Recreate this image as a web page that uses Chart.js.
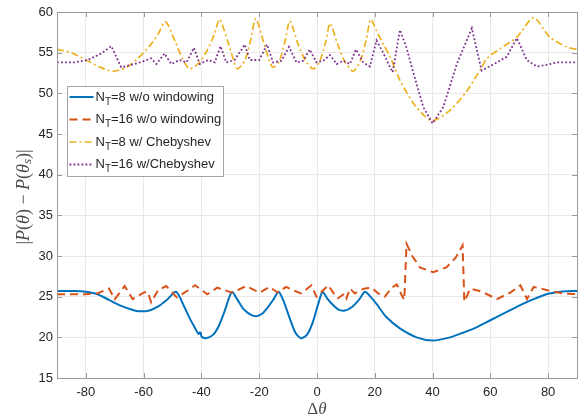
<!DOCTYPE html>
<html>
<head>
    <title>Pattern difference vs angle offset</title>
    <meta charset="utf-8">
    <script src="https://cdn.jsdelivr.net/npm/chart.js"></script>
    <style>
        body { margin: 0; background: #fff; }
        #wrap { width: 582px; height: 420px; }
    </style>
</head>
<body>
<div id="wrap"><canvas id="chart" width="582" height="420"></canvas></div>
<script>
    // N_T=8 w/o windowing
    var blueX = [-90, -84, -80, -76, -72, -68, -64, -61.5, -58, -55, -52, -48.8, -46, -44, -42, -41, -40.6, -40.2, -40, -38.5, -36, -34, -32, -30.5, -29.4,
        -27.5, -25.5, -23, -21, -19, -17, -15, -13.3, -11.5, -9.5, -7.5, -5.6, -3.5, -1.5, 0.5, 1.9, 3.5, 5.5, 7.5, 9.7, 12, 14.5, 16.6,
        18.5, 20.6, 24, 28.7, 34.5, 40, 45, 50, 55, 60, 65, 70, 75, 80, 85, 90];
    var blueY = [25.7, 25.7, 25.6, 25.3, 24.6, 23.9, 23.4, 23.2, 23.3, 23.8, 24.6, 25.6, 23.8, 22.3, 21.0, 20.4, 20.6, 20.5, 20.1, 19.9, 20.3, 21.4, 23.2, 24.8, 25.6,
        24.6, 23.5, 22.8, 22.6, 22.9, 23.7, 24.7, 25.6, 24.4, 22.4, 20.6, 19.9, 20.3, 21.8, 24.2, 25.6, 24.8, 24.0, 23.4, 23.3, 23.7, 24.6, 25.6,
        25.0, 24.1, 22.5, 21.1, 20.0, 19.6, 19.9, 20.5, 21.2, 22.1, 23.0, 23.9, 24.7, 25.35, 25.65, 25.7];

    // N_T=16 w/o windowing
    var redX = [-90, -80, -76, -72, -70, -66.6, -63.8, -60, -58.6, -57.4, -55, -52.2, -48.5, -45, -42.2, -38, -34.5, -29.4, -24.5, -19.8, -16.5, -13.6,
        -10.7, -8.4, -5.5, -1.9, -0.2, 1.6, 3.9, 6.2, 7.3, 9.6, 10.2, 11.4, 13.1, 14.8, 16.6, 18.9, 21.2, 23.5, 25.8, 27.6, 29.3, 30.2, 31, 33,
        35.6, 40.2, 44.8, 48, 50.4, 51, 53.1, 57.1, 62.3, 66.9, 70.4, 72.7, 75, 79.7, 85, 90];
    var redY = [25.3, 25.3, 25.4, 26.0, 24.7, 26.3, 24.7, 25.5, 25.6, 24.3, 25.8, 26.3, 24.9, 25.7, 26.4, 25.3, 26.1, 25.5, 26.3, 25.5, 26.2, 25.5,
        26.2, 25.8, 25.4, 26.4, 25.0, 25.6, 26.4, 25.2, 24.8, 25.4, 24.8, 26.0, 25.4, 25.8, 26.0, 26.1, 25.4, 25.0, 26.1, 26.5, 25.2, 24.6, 31.5, 30.0,
        28.6, 28.0, 28.6, 29.8, 31.3, 24.4, 26.0, 25.6, 24.7, 25.5, 26.4, 24.7, 26.2, 25.8, 25.4, 25.3];

    // N_T=8 w/ Chebyshev
    var yellowX = [-90, -85, -80, -75, -70.7, -66, -62, -58, -55, -52.4, -49, -46.5, -44.1, -41, -38, -35.5, -33.7, -31, -29, -27.6, -25, -23, -21.2,
        -18.5, -16.5, -15.2, -13, -11, -9.4, -6.5, -4, -1.3, 1, 3, 4.5, 7, 9.5, 12.5, 15, 17, 18.6, 20.6, 23, 25.3, 28.7, 33.3, 37, 40, 46,
        51.7, 57, 58.8, 63.4, 69.2, 75, 80.6, 86.5, 90];
    var yellowY = [55.4, 55.0, 54.1, 53.2, 52.7, 53.2, 54.3, 55.8, 57.3, 58.8, 56.3, 54.2, 53.0, 53.7, 55.3, 57.3, 59.1, 56.5, 54.2, 53.0, 54.0, 56.5, 59.2,
        56.3, 54.0, 53.2, 54.0, 56.5, 58.9, 56.0, 54.0, 53.0, 54.0, 56.3, 58.6, 56.2, 54.0, 52.7, 54.0, 56.5, 59.1, 57.7, 56.0, 54.5, 51.6, 48.8, 47.3, 46.6, 47.9,
        50.2, 53.2, 54.3, 55.5, 56.9, 59.3, 56.9, 55.7, 55.4];

    // N_T=16 w/Chebyshev
    var purpleX = [-90, -84, -79.3, -74.7, -71.2, -67.8, -64.3, -60.8, -57.4, -55.6, -52.8, -50.4, -47.6, -45.2, -42.6, -40.6, -37.7, -35.4, -33.4, -31.4,
        -28.5, -25, -23.3, -20, -17.3, -15.2, -12.3, -9.7, -7.1, -4.8, -2.5, -0.2, 2.1, 4.5, 6.8, 9.1, 11.4, 13.5, 16, 18.3, 20.6, 22.9, 25.3, 26.2,
        28.7, 31, 33.3, 36.8, 40, 43.7, 48.4, 53.6, 57, 62.3, 65.7, 69.2, 72.6, 76.1, 79.5, 83, 90];
    var purpleY = [53.8, 53.8, 54.1, 54.9, 55.8, 53.2, 53.5, 53.85, 54.3, 53.6, 54.9, 53.6, 54.1, 53.8, 55.6, 53.6, 54.1, 53.8, 55.8, 53.8,
        54.1, 56.0, 54.1, 54.1, 56.0, 53.8, 54.0, 55.7, 53.8, 54.0, 55.4, 53.8, 54.0, 54.7, 53.6, 54.0, 53.6, 55.4, 53.8, 53.3, 56.5, 55.0, 53.2, 52.6,
        57.8, 55.6, 52.6, 48.3, 46.3, 48.3, 53.6, 58.0, 52.8, 53.8, 54.5, 56.8, 54.1, 53.3, 53.5, 53.8, 53.8];

    var seriesLabels = ['N_T=8 w/o windowing', 'N_T=16 w/o windowing', 'N_T=8 w/ Chebyshev', 'N_T=16 w/Chebyshev'];
    var xTicks = [-80, -60, -40, -20, 0, 20, 40, 60, 80];
    var yTicks = [15, 20, 25, 30, 35, 40, 45, 50, 55, 60];

    function pts(xs, ys) {
        return xs.map(function(x, i) { return { x: x, y: ys[i] }; });
    }

    // box, inward ticks, axis labels and legend drawn matlab-style
    var matlabAxes = {
        id: 'matlabAxes',
        afterDraw: function(chart) {
            var ctx = chart.ctx, a = chart.chartArea;
            var xs = chart.scales.x, ys = chart.scales.y;
            ctx.save();
            ctx.strokeStyle = '#9a9a9a';
            ctx.lineWidth = 1;
            ctx.beginPath();
            xTicks.forEach(function(v) {
                var px = Math.round(xs.getPixelForValue(v)) + 0.5;
                ctx.moveTo(px, a.bottom); ctx.lineTo(px, a.bottom - 5);
                ctx.moveTo(px, a.top); ctx.lineTo(px, a.top + 5);
            });
            yTicks.forEach(function(v) {
                var py = Math.round(ys.getPixelForValue(v)) + 0.5;
                ctx.moveTo(a.left, py); ctx.lineTo(a.left + 5, py);
                ctx.moveTo(a.right, py); ctx.lineTo(a.right - 5, py);
            });
            ctx.stroke();
            ctx.strokeRect(Math.round(a.left) + 0.5, Math.round(a.top) + 0.5, Math.round(a.right - a.left), Math.round(a.bottom - a.top));

            // x label
            ctx.fillStyle = '#4a4a4a';
            ctx.textBaseline = 'middle';
            ctx.textAlign = 'left';
            ctx.font = '17px "Liberation Serif"';
            var dW = ctx.measureText('Δ').width;
            ctx.font = 'italic 17px "Liberation Serif"';
            var tW = ctx.measureText('θ').width;
            var cx = (a.left + a.right) / 2 - (dW + tW) / 2;
            ctx.font = '17px "Liberation Serif"';
            ctx.fillText('Δ', cx, 410);
            ctx.font = 'italic 17px "Liberation Serif"';
            ctx.fillText('θ', cx + dW, 410);

            // y label |P(θ) − P(θs)|
            var parts = [['|', 0], ['P', 1], ['(', 0], ['θ', 1], [')', 0], [' − ', 0], ['P', 1], ['(', 0], ['θ', 1], ['s', 2], [')', 0], ['|', 0]];
            function fnt(k) {
                if (k === 2) return 'italic 13px "Liberation Serif"';
                return (k === 1 ? 'italic ' : '') + '18px "Liberation Serif"';
            }
            var total = 0;
            parts.forEach(function(p) { ctx.font = fnt(p[1]); total += ctx.measureText(p[0]).width; });
            ctx.translate(24, (a.top + a.bottom) / 2 + 2);
            ctx.rotate(-Math.PI / 2);
            var px0 = -total / 2;
            parts.forEach(function(p) {
                ctx.font = fnt(p[1]);
                ctx.fillText(p[0], px0, p[1] === 2 ? 4 : 0);
                px0 += ctx.measureText(p[0]).width;
            });
            ctx.restore();

            // legend
            ctx.save();
            var lx = a.left + 9.5, ly = a.top + 74, lw = 156, lh = 90;
            ctx.fillStyle = '#fff';
            ctx.fillRect(lx, ly, lw, lh);
            ctx.strokeStyle = '#a6a6a6';
            ctx.lineWidth = 1;
            ctx.strokeRect(Math.round(lx) + 0.5, Math.round(ly) + 0.5, lw, lh);
            chart.data.datasets.forEach(function(ds, i) {
                var yy = ly + 11 + i * 22.5;
                ctx.strokeStyle = ds.borderColor;
                ctx.lineWidth = ds.borderWidth;
                ctx.setLineDash(ds.borderDash || []);
                ctx.beginPath();
                ctx.moveTo(lx + 3, yy); ctx.lineTo(lx + 27, yy);
                ctx.stroke();
                ctx.setLineDash([]);
                var txt = ds.label.split('_');
                ctx.fillStyle = '#262626';
                ctx.textBaseline = 'middle';
                var tx = lx + 29;
                ctx.font = '13px "Liberation Sans"';
                ctx.fillText(txt[0], tx, yy);
                tx += ctx.measureText(txt[0]).width;
                ctx.font = '10px "Liberation Sans"';
                ctx.fillText(txt[1].charAt(0), tx, yy + 5);
                tx += ctx.measureText(txt[1].charAt(0)).width;
                ctx.font = '13px "Liberation Sans"';
                ctx.fillText(txt[1].slice(1), tx, yy);
            });
            ctx.restore();
        }
    };

    var ctx = document.getElementById('chart').getContext('2d');
    var myChart = new Chart(ctx, {
        type: 'line',
        data: {
            datasets: [{
                label: seriesLabels[0],
                data: pts(blueX, blueY),
                borderColor: '#0072BD',
                borderWidth: 2,
                tension: 0.25,
                order: 4
            }, {
                label: seriesLabels[1],
                data: pts(redX, redY),
                borderColor: '#D95319',
                borderWidth: 2,
                borderDash: [8, 5],
                tension: 0,
                order: 3
            }, {
                label: seriesLabels[2],
                data: pts(yellowX, yellowY),
                borderColor: '#EDB120',
                borderWidth: 1.7,
                borderDash: [7, 3, 2, 3],
                tension: 0.25,
                order: 2
            }, {
                label: seriesLabels[3],
                data: pts(purpleX, purpleY),
                borderColor: '#7E2F8E',
                borderWidth: 1.8,
                borderDash: [1.8, 2.2],
                tension: 0,
                order: 1
            }]
        },
        options: {
            responsive: false,
            animation: false,
            layout: { padding: { top: 12, right: 5, left: 0, bottom: 0 } },
            elements: { point: { radius: 0 } },
            plugins: { legend: { display: false }, tooltip: { enabled: false } },
            scales: {
                x: {
                    type: 'linear',
                    min: -90,
                    max: 90,
                    afterBuildTicks: function(s) { s.ticks = xTicks.map(function(v) { return { value: v }; }); },
                    afterFit: function(s) { s.height = 42; },
                    grid: { color: '#e9e9e9', drawTicks: false },
                    border: { display: false },
                    ticks: { padding: 7, color: '#262626', font: { family: 'Liberation Sans', size: 13 }, maxRotation: 0 }
                },
                y: {
                    min: 15,
                    max: 60,
                    afterBuildTicks: function(s) { s.ticks = yTicks.map(function(v) { return { value: v }; }); },
                    afterFit: function(s) { s.width = 57; },
                    grid: { color: '#e9e9e9', drawTicks: false },
                    border: { display: false },
                    ticks: { padding: 4, color: '#262626', font: { family: 'Liberation Sans', size: 13 } }
                }
            }
        },
        plugins: [matlabAxes]
    });
</script>
</body>
</html>
